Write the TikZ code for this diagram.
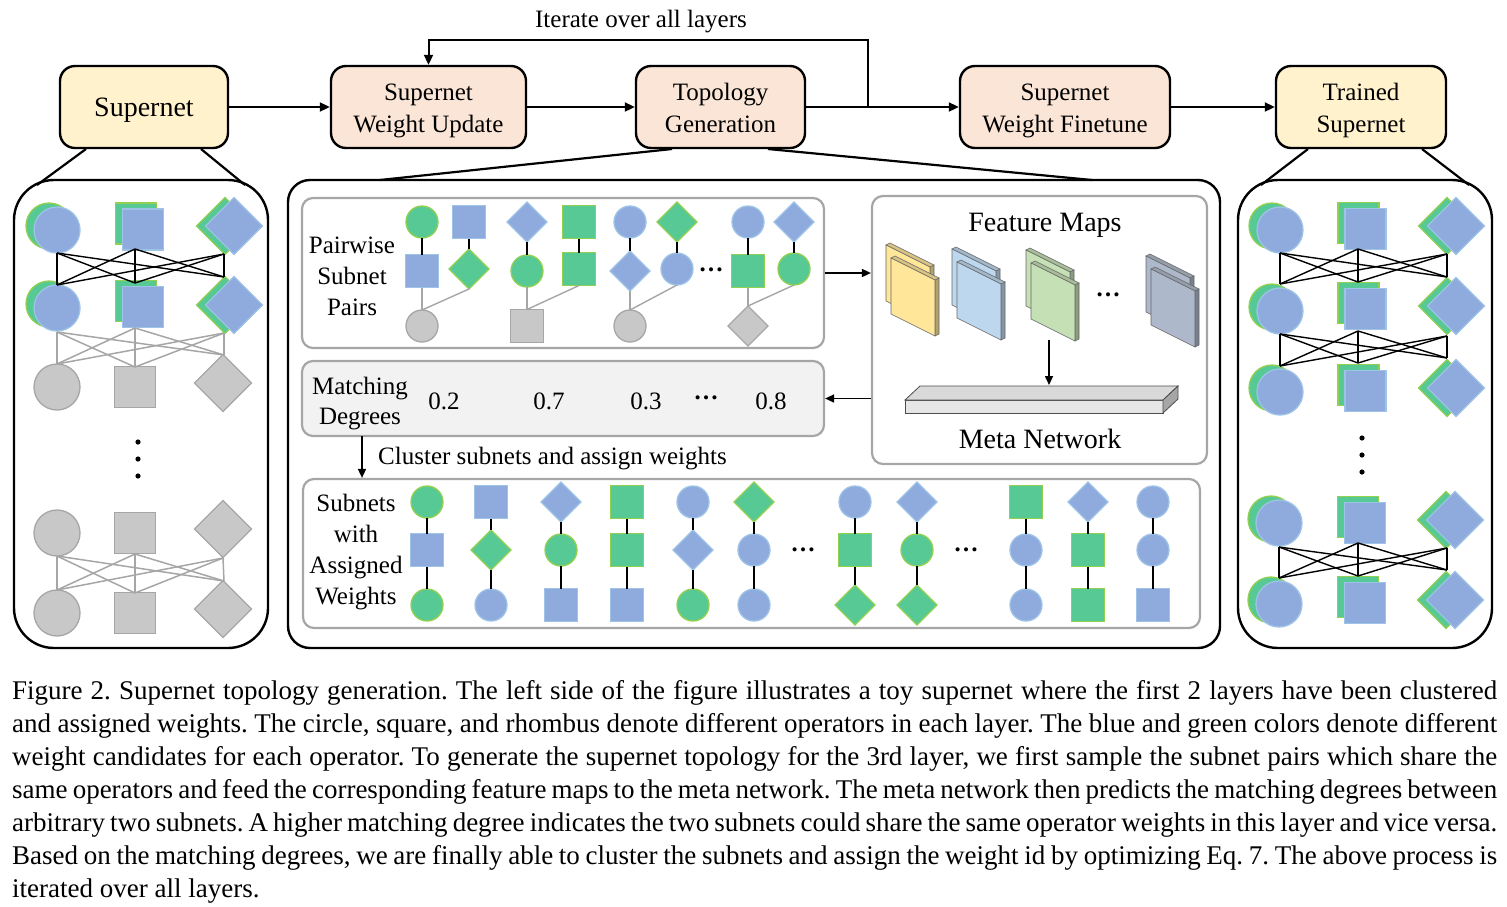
\documentclass[tikz,border=0pt]{standalone}
\usepackage{fontspec}
\setmainfont{Liberation Serif}
\usetikzlibrary{arrows.meta,shapes.geometric}
\definecolor{cYel}{HTML}{FFF2CC}
\definecolor{cPeach}{HTML}{FBE5D6}
\definecolor{cG}{HTML}{57C994}
\definecolor{cGb}{HTML}{92D050}
\definecolor{cB}{HTML}{8FAADC}
\definecolor{cBb}{HTML}{9DC3E6}
\definecolor{cGr}{HTML}{C8C8C8}
\definecolor{cGrb}{HTML}{A6A6A6}
\definecolor{cBox}{HTML}{A6A6A6}
\definecolor{cLight}{HTML}{F2F2F2}
\definecolor{fmY}{HTML}{FFE699}
\definecolor{fmB}{HTML}{BDD7EE}
\definecolor{fmG}{HTML}{C5E0B4}
\definecolor{fmS}{HTML}{ADB9CA}
\definecolor{cMetaT}{HTML}{D9D9D9}
\definecolor{cMetaF}{HTML}{E7E6E6}
\definecolor{cMetaS}{HTML}{A6A6A6}

\newcommand\fsB{\fontsize{25}{31}\selectfont}
\newcommand\fsT{\fontsize{25}{32}\selectfont}
\newcommand\fsL{\fontsize{28}{33}\selectfont}
\newcommand\fsC{\fontsize{27}{33}\selectfont\frenchspacing}
\newcommand\capline[1]{\hbox to 1485pt{\frenchspacing\spaceskip=0.25em plus 2em minus 0.08em\relax #1}}

\tikzset{
 shp/.style={inner sep=0pt,outer sep=0pt,line width=1.3pt},
 GC/.style={shp,circle,fill=cG,draw=cGb,minimum size=#1}, GC/.default=32pt,
 BC/.style={shp,circle,fill=cB,draw=cBb,minimum size=#1}, BC/.default=32pt,
 XC/.style={shp,circle,fill=cGr,draw=cGrb,minimum size=#1}, XC/.default=32pt,
 GS/.style={shp,rectangle,fill=cG,draw=cGb,minimum size=#1}, GS/.default=33pt,
 BS/.style={shp,rectangle,fill=cB,draw=cBb,minimum size=#1}, BS/.default=33pt,
 XS/.style={shp,rectangle,fill=cGr,draw=cGrb,minimum size=#1}, XS/.default=33pt,
 GD/.style={shp,diamond,fill=cG,draw=cGb,minimum size=#1}, GD/.default=40pt,
 BD/.style={shp,diamond,fill=cB,draw=cBb,minimum size=#1}, BD/.default=40pt,
 XD/.style={shp,diamond,fill=cGr,draw=cGrb,minimum size=#1}, XD/.default=40pt,
 flowbox/.style={draw=black,line width=2.4pt,rounded corners=15pt,minimum height=82pt,inner sep=0pt},
 flowtxt/.style={font=\fsT,align=center,inner sep=0pt},
 arr/.style={line width=2pt,-{Triangle[length=10pt,width=9pt]}},
 arrs/.style={line width=1.6pt,-{Triangle[length=9pt,width=8pt]}},
 panel/.style={draw=black,line width=2.4pt,inner sep=0pt},
 ibox/.style={draw=cBox,line width=2.2pt,rounded corners=11pt,inner sep=0pt},
 blk/.style={line width=1.4pt,black},
 gln/.style={line width=1.4pt,cGrb},
 kb/.style={line width=1.4pt,black},
 kg/.style={line width=1.5pt,cGrb},
 lbl/.style={font=\fsB,align=center,inner sep=0pt},
 capt/.style={font=\fsC,anchor=base west,inner sep=0pt},
}

% bipartite connections
\newcommand\kcon[3]{\foreach \i in {1,2,3}{\foreach \j in {1,2,3}{\draw[#1] (#2\i) -- (#3\j);}}}
% overlapped green/blue shapes
\newcommand\dblC[3]{\node[GC=46pt] (#1g) at (#2-8,#3-4) {};\node[BC=46pt] (#1) at (#2,#3) {};}
\newcommand\dblS[3]{\node[GS=41pt] (#1g) at (#2-7,#3-6) {};\node[BS=41pt] (#1) at (#2,#3) {};}
\newcommand\dblD[3]{\node[GD=57pt] (#1g) at (#2-9,#3) {};\node[BD=57pt] (#1) at (#2,#3) {};}
% assigned-weights column
\newcommand\acol[5]{\node[#3] (#1a) at (#2,502) {};\node[#4] (#1b) at (#2,550) {};\node[#5] (#1c) at (#2,605) {};\draw[blk] (#1a) -- (#1b);\draw[blk] (#1b) -- (#1c);}
% pairwise column pair
\newcommand\pcol[8]{%
 \node[#4] (#1la) at (#2,222) {};\node[#5] (#1lb) at (#2,271) {};
 \node[#6] (#1ra) at (#3,222) {};\node[#7] (#1rb) at (#3,269) {};
 \node[#8] (#1x) at (#2,326) {};
 \draw[blk] (#1la) -- (#1lb);\draw[blk] (#1ra) -- (#1rb);
 \draw[gln] (#1lb.south) -- (#1x.north);\draw[gln] (#1rb.south) -- (#1x.north);}
% feature-map plate
\newcommand\plate[3]{%
 \filldraw[fill=#3!70!black,draw=black!60,line width=.6pt] (#1+44,#2+22) -- ++(4,-2) -- ++(0,56) -- ++(-4,2) -- cycle;
 \filldraw[fill=#3!85!black,draw=black!60,line width=.6pt] (#1,#2) -- ++(4,-2) -- ++(44,22) -- ++(-4,2) -- cycle;
 \filldraw[fill=#3,draw=black!60,line width=.6pt] (#1,#2) -- ++(44,22) -- ++(0,56) -- ++(-44,-22) -- cycle;}
\newcommand\fmap[3]{\plate{#1-5}{#2-13}{#3}\plate{#1}{#2}{#3}}

\begin{document}
\begin{tikzpicture}[x=1pt,y=-1pt]
\useasboundingbox (0,0) rectangle (1507,906);

% ---------- top flow ----------
\node[flowbox,fill=cYel,minimum width=168pt] (sn) at (144,107) {};
\node[flowbox,fill=cPeach,minimum width=195pt] (wu) at (428.5,107) {};
\node[flowbox,fill=cPeach,minimum width=169pt] (tg) at (720.5,107) {};
\node[flowbox,fill=cPeach,minimum width=210pt] (wf) at (1065,107) {};
\node[flowbox,fill=cYel,minimum width=170pt] (ts) at (1361,107) {};
\node[flowtxt,font=\fsL] (snT) at (144,110) {Supernet};
\node[flowtxt] (wuT) at (428.5,111) {Supernet\\Weight Update};
\node[flowtxt] (tgT) at (720.5,108) {Topology\\Generation};
\node[flowtxt] (wfT) at (1065,111) {Supernet\\Weight Finetune};
\node[flowtxt] (tsT) at (1361,110) {Trained\\Supernet};
\draw[arr] (sn) -- (wu);
\draw[arr] (wu) -- (tg);
\draw[arr] (tg) -- (wf);
\draw[arr] (wf) -- (ts);
\coordinate (jn) at (868,107);
\coordinate (fbc) at (868,40);
\draw[arr] (jn) -- (fbc) -| (wu.north);
\node[font=\fsT,inner sep=0pt] (itl) at (641,22) {Iterate over all layers};

% ---------- panels ----------
\node[panel,rounded corners=40pt,minimum width=254pt,minimum height=468pt] (lp) at (141,414) {};
\node[panel,rounded corners=40pt,minimum width=254pt,minimum height=468pt] (rp) at (1365,414) {};
\node[panel,rounded corners=22pt,minimum width=932pt,minimum height=468pt] (mp) at (754,414) {};
\coordinate (s1) at (86,149); \coordinate (s2) at (201,149);
\coordinate (l1) at (37,185); \coordinate (l2) at (245,185);
\draw[line width=2.2pt] (s1) -- (l1); \draw[line width=2.2pt] (s2) -- (l2);
\coordinate (t1) at (1308,149); \coordinate (t2) at (1422,149);
\coordinate (r1) at (1261,185); \coordinate (r2) at (1469,185);
\draw[line width=2.2pt] (t1) -- (r1); \draw[line width=2.2pt] (t2) -- (r2);
\coordinate (g1) at (672,149); \coordinate (g2) at (768,149);
\coordinate (m1) at (380,180); \coordinate (m2) at (1092,180);
\draw[line width=2.2pt] (g1) -- (m1); \draw[line width=2.2pt] (g2) -- (m2);

% ---------- left panel ----------
\dblC{la1}{57}{230} \dblS{la2}{143}{229.5} \dblD{la3}{234}{226}
\dblC{lb1}{57}{308} \dblS{lb2}{143}{307} \dblD{lb3}{234}{305}
\node[XC=46pt] (lc1) at (57,387) {}; \node[XS=41pt] (lc2) at (135,387) {}; \node[XD=57pt] (lc3) at (223,383) {};
\node[XC=46pt] (ld1) at (57,533) {}; \node[XS=41pt] (ld2) at (135,533) {}; \node[XD=57pt] (ld3) at (223,529) {};
\node[XC=46pt] (le1) at (57,613) {}; \node[XS=41pt] (le2) at (135,613) {}; \node[XD=57pt] (le3) at (223,609) {};
\coordinate (LaB1) at (57,253); \coordinate (LaB2) at (135,249); \coordinate (LaB3) at (224,254);
\coordinate (LbT1) at (57,285); \coordinate (LbT2) at (135,283); \coordinate (LbT3) at (224,277);
\coordinate (LbB1) at (57,332); \coordinate (LbB2) at (135,328); \coordinate (LbB3) at (224,333);
\coordinate (LcT1) at (57,364); \coordinate (LcT2) at (135,367); \coordinate (LcT3) at (224,355);
\coordinate (LdB1) at (57,556); \coordinate (LdB2) at (135,554); \coordinate (LdB3) at (223,558);
\coordinate (LeT1) at (57,590); \coordinate (LeT2) at (135,593); \coordinate (LeT3) at (224,581);
\kcon{kb}{LaB}{LbT}
\kcon{kg}{LbB}{LcT}
\kcon{kg}{LdB}{LeT}
\fill (138,442) circle (2.6pt); \fill (138,459) circle (2.6pt); \fill (138,476) circle (2.6pt);

% ---------- right panel ----------
\dblC{ra1}{1280}{230} \dblS{ra2}{1365.5}{229} \dblD{ra3}{1456}{226}
\dblC{rb1}{1280}{311} \dblS{rb2}{1365.5}{309} \dblD{rb3}{1456}{306}
\dblC{rc1}{1280}{392} \dblS{rc2}{1365.5}{391} \dblD{rc3}{1456}{388}
\dblC{rd1}{1279}{523} \dblS{rd2}{1365}{523} \dblD{rd3}{1455}{520}
\dblC{re1}{1279}{604} \dblS{re2}{1365}{603} \dblD{re3}{1455}{600}
\coordinate (RaB1) at (1280,253); \coordinate (RaB2) at (1358,249); \coordinate (RaB3) at (1447,254);
\coordinate (RbT1) at (1280,284); \coordinate (RbT2) at (1358,282); \coordinate (RbT3) at (1447,277);
\coordinate (RbB1) at (1280,334); \coordinate (RbB2) at (1358,331); \coordinate (RbB3) at (1447,336);
\coordinate (RcT1) at (1280,366); \coordinate (RcT2) at (1358,363); \coordinate (RcT3) at (1447,358);
\coordinate (RdB1) at (1279,547); \coordinate (RdB2) at (1358,543); \coordinate (RdB3) at (1447,548);
\coordinate (ReT1) at (1279,578); \coordinate (ReT2) at (1358,576); \coordinate (ReT3) at (1447,570);
\kcon{kb}{RaB}{RbT}
\kcon{kb}{RbB}{RcT}
\kcon{kb}{RdB}{ReT}
\fill (1362,438) circle (2.6pt); \fill (1362,455) circle (2.6pt); \fill (1362,472) circle (2.6pt);

% ---------- middle panel boxes ----------
\node[ibox,fill=white,minimum width=522pt,minimum height=150pt] (pw) at (563,273) {};
\node[ibox,fill=white,minimum width=335pt,minimum height=268pt] (fm) at (1039.5,330) {};
\node[ibox,fill=cLight,minimum width=522pt,minimum height=75pt] (md) at (563,398.5) {};
\node[ibox,fill=white,minimum width=897pt,minimum height=149pt] (aw) at (751.5,553.5) {};
\draw[arrs] (pw.east) -- (pw.east -| fm.west);
\draw[arrs] (md.east -| fm.west) -- (md.east);
\coordinate (cl) at (362,436);
\draw[arrs] (cl) -- (cl |- aw.north);
\node[font=\fsB,anchor=west,inner sep=0pt] (clt) at (378,459) {Cluster subnets and assign weights};

% pairwise
\node[lbl] (pwt) at (352,276) {Pairwise\\Subnet\\Pairs};
\pcol{p1}{422}{469}{GC}{BS}{BS}{GD}{XC}
\pcol{p2}{527}{579}{BD}{GC}{GS}{GS}{XS}
\pcol{p3}{630}{677}{BC}{BD}{GD}{BC}{XC}
\pcol{p4}{748}{794}{BC}{GS}{BD}{GC}{XD}
\node[lbl] (pwd) at (711,270) {\textbf{…}};

% matching degrees
\node[lbl,font=\fontsize{25}{30}\selectfont] (mdt) at (360,404) {Matching\\Degrees};
\node[lbl] (v1) at (444,401) {0.2};
\node[lbl] (v2) at (549,401) {0.7};
\node[lbl] (v3) at (646,401) {0.3};
\node[lbl] (vd) at (706,398) {\textbf{…}};
\node[lbl] (v4) at (771,401) {0.8};

% feature maps
\node[font=\fsL,inner sep=0pt] (fmt) at (1045,225) {Feature Maps};
\fmap{891}{258}{fmY}
\fmap{957}{262}{fmB}
\fmap{1031}{263}{fmG}
\fmap{1151}{269}{fmS}
\node[lbl] (fmd) at (1108,295) {\textbf{…}};
\filldraw[fill=cMetaF,draw=black!70,line width=.8pt] (905,400) -- (1163,400) -- (1163,413) -- (905,413) -- cycle;
\filldraw[fill=cMetaT,draw=black!70,line width=.8pt] (905,400) -- (920,386) -- (1178,386) -- (1163,400) -- cycle;
\filldraw[fill=cMetaS,draw=black!70,line width=.8pt] (1163,400) -- (1178,386) -- (1178,399) -- (1163,413) -- cycle;
\coordinate (fmb) at (1049,340);
\coordinate (mtop) at (1049,385);
\draw[arrs] (fmb) -- (mtop);
\node[font=\fsL,inner sep=0pt] (mnt) at (1040,439) {Meta Network};

% assigned weights
\node[lbl] (awt) at (356,552) {Subnets\\with\\Assigned\\Weights};
\acol{w1}{427}{GC}{BS}{GC}
\acol{w2}{491}{BS}{GD}{BC}
\acol{w3}{561}{BD}{GC}{BS}
\acol{w4}{627}{GS}{GS}{BS}
\acol{w5}{693}{BC}{BD}{GC}
\acol{w6}{754}{GD}{BC}{BC}
\acol{w7}{855}{BC}{GS}{GD}
\acol{w8}{917}{BD}{GC}{GD}
\acol{w9}{1026}{GS}{BC}{BC}
\acol{w10}{1088}{BD}{GS}{GS}
\acol{w11}{1153}{BC}{BC}{BS}
\node[lbl] (awd1) at (803,550) {\textbf{…}};
\node[lbl] (awd2) at (966,550) {\textbf{…}};

% ---------- caption ----------
\node[capt] (cap1) at (12,699) {\capline{Figure 2. Supernet topology generation. The left side of the figure illustrates a toy supernet where the first 2 layers have been clustered}};
\node[capt] (cap2) at (12,732) {\capline{and assigned weights. The circle, square, and rhombus denote different operators in each layer. The blue and green colors denote different}};
\node[capt] (cap3) at (12,765) {\capline{weight candidates for each operator. To generate the supernet topology for the 3rd layer, we first sample the subnet pairs which share the}};
\node[capt] (cap4) at (12,798) {\capline{same operators and feed the corresponding feature maps to the meta network. The meta network then predicts the matching degrees between}};
\node[capt] (cap5) at (12,831) {\capline{arbitrary two subnets. A higher matching degree indicates the two subnets could share the same operator weights in this layer and vice versa.}};
\node[capt] (cap6) at (12,864) {\capline{Based on the matching degrees, we are finally able to cluster the subnets and assign the weight id by optimizing Eq. 7. The above process is}};
\node[capt] (cap7) at (12,897) {iterated over all layers.};
\end{tikzpicture}
\end{document}
